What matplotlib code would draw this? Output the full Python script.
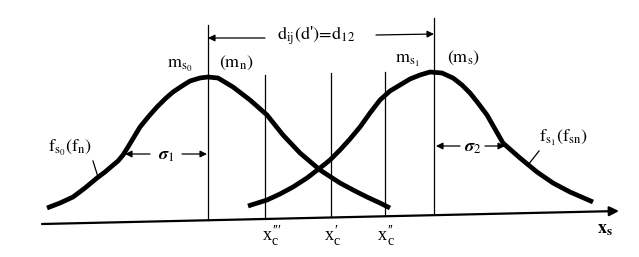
import matplotlib
matplotlib.use("Agg")
import matplotlib.pyplot as plt

plt.rcParams['mathtext.fontset'] = 'stix'
plt.rcParams['font.family'] = ['Liberation Serif', 'DejaVu Serif']

########## DATA (pixel-ish units) ##########

# f_s0 (f_n) curve
f0_x = [47, 60, 73, 85, 97, 105, 112, 118, 123, 128, 134, 140, 149, 157, 165, 173, 182, 190,
        200, 208, 218, 233, 250, 267, 283, 300, 320, 340, 355, 367, 380, 390]
f0_y = [208, 203, 197, 188, 178, 172, 166, 161, 155, 147, 137, 127, 116, 107, 99, 92, 86, 81,
        78, 77, 78, 87, 100, 115, 135, 153, 170, 183, 191, 197, 203, 208]

# f_s1 (f_sn) curve
f1_x = [248, 267, 280, 293, 307, 320, 330, 340, 350, 360, 370, 380, 390, 400, 410, 420, 430,
        442, 453, 462, 470, 478, 487, 495, 503, 512, 520, 537, 553, 570, 593]
f1_y = [206, 200, 194, 187, 178, 168, 160, 150, 139, 127, 113, 100, 91, 85, 79, 75, 72,
        73, 78, 85, 93, 103, 115, 129, 143, 151, 158, 172, 183, 192, 202]

# vertical markers: x, top y, bottom y
vline_x = [208, 265, 331, 385, 434]
vline_top = [25, 75, 73, 72, 18]
vline_bot = [220, 219, 217, 216, 214]

xc_primes = ["′′′", "′", "′′"]
xc_label_x = [273, 335, 388]

########## DRAW ##########

fig = plt.figure(figsize=(6.39, 2.57), dpi=100)
ax = fig.add_axes([0, 0, 1, 1])
ax.set_xlim(0, 639)
ax.set_ylim(257, 0)
ax.axis("off")

# horizontal axis (scan is slightly tilted)
ax.annotate("", xy=(619, 211), xytext=(42, 224),
            arrowprops=dict(arrowstyle="-|>", lw=1.6, color="black",
                            mutation_scale=14, shrinkA=0, shrinkB=0))

for x, t, b in zip(vline_x, vline_top, vline_bot):
    ax.plot([x, x], [t, b], color="black", lw=0.9)

ax.plot(f0_x, f0_y, color="black", lw=3.4, solid_capstyle="butt", solid_joinstyle="round")
ax.plot(f1_x, f1_y, color="black", lw=3.4, solid_capstyle="butt", solid_joinstyle="round")

arw = dict(arrowstyle="-|>", lw=0.9, color="black", mutation_scale=10, shrinkA=0, shrinkB=0)
fs = 13

# d_ij arrow
ax.annotate("", xy=(208, 38), xytext=(265, 38), arrowprops=arw)
ax.annotate("", xy=(434, 34), xytext=(376, 35), arrowprops=arw)
ax.text(316, 36, r"$\mathrm{d_{ij}(d}$" + "'" + r"$\mathrm{)\!=\!d_{12}}$",
        fontsize=fs, ha="center", va="center")

# sigma arrows
ax.annotate("", xy=(125, 154), xytext=(150, 154), arrowprops=arw)
ax.annotate("", xy=(207, 154), xytext=(182, 154), arrowprops=arw)
ax.text(166, 156, r"$\boldsymbol{\sigma}_1$", fontsize=fs, ha="center", va="center")
ax.annotate("", xy=(436, 146), xytext=(460, 146), arrowprops=arw)
ax.annotate("", xy=(505, 146), xytext=(485, 146), arrowprops=arw)
ax.text(473, 148, r"$\boldsymbol{\sigma}_2$", fontsize=fs, ha="center", va="center")

# peak labels
ax.text(180, 66, r"$\mathrm{m_{s_0}}$", fontsize=fs, ha="center", va="center")
ax.text(236, 63, r"$\mathrm{(m_n)}$", fontsize=fs, ha="center", va="center")
ax.text(407, 61, r"$\mathrm{m_{s_1}}$", fontsize=fs, ha="center", va="center")
ax.text(464, 58, r"$\mathrm{(m_s)}$", fontsize=fs, ha="center", va="center")

# curve labels with leaders
ax.text(70, 148, r"$\mathrm{f_{s_0}(f_n)}$", fontsize=fs, ha="center", va="center")
ax.plot([93, 98], [161, 177], color="black", lw=0.9)
ax.text(563, 138, r"$\mathrm{f_{s_1}(f_{sn})}$", fontsize=fs, ha="center", va="center")
ax.plot([539, 528], [151, 165], color="black", lw=0.9)

# axis labels: "x" then primes stacked over the subscript c
for pr, x in zip(xc_primes, xc_label_x):
    ax.text(x - 1, 236, "x", fontsize=fs, ha="right", va="center")
    ax.text(x - 1, 236, pr + "\nc", fontsize=fs - 3, ha="left", va="center",
            linespacing=0.75, multialignment="left")
ax.text(605, 230, r"$\mathbf{x_s}$", fontsize=fs, ha="center", va="center")

fig.savefig("out.png", dpi=100)
plt.close(fig)
